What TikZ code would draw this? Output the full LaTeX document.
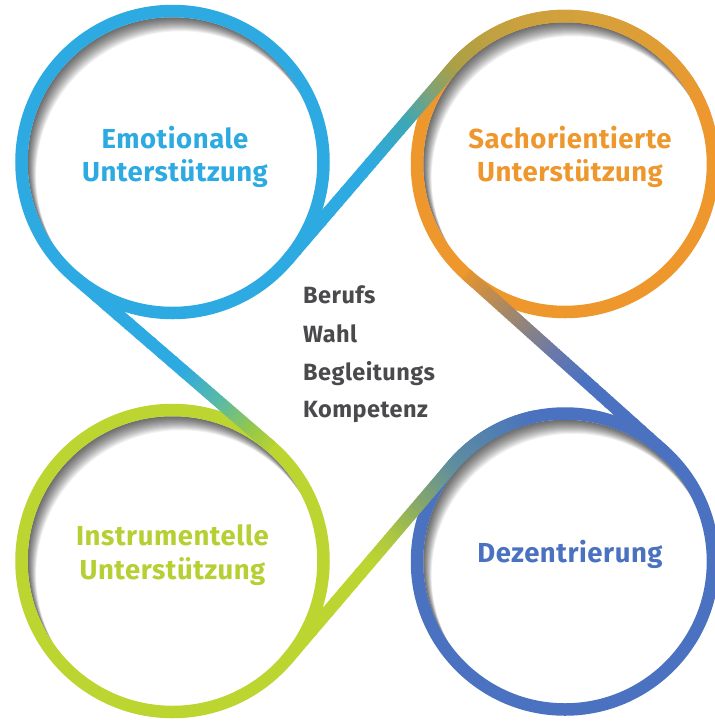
\documentclass[tikz,border=0pt]{standalone}
\usepackage{fontspec}
\setmainfont{Fira Sans}[LetterSpace=2]
\usetikzlibrary{calc}
\definecolor{cBlue}{HTML}{2DAAE1}
\definecolor{cTealA}{HTML}{3EA7B5}
\definecolor{cSage}{HTML}{82A274}
\definecolor{cOlive}{HTML}{A9A046}
\definecolor{cOliveB}{HTML}{C9A13E}
\definecolor{cOchre}{HTML}{D6A13A}
\definecolor{cOrange}{HTML}{EE972D}
\definecolor{cOrB}{HTML}{E3952F}
\definecolor{cBrown}{HTML}{C08C4E}
\definecolor{cGrey}{HTML}{93857A}
\definecolor{cSlate}{HTML}{6878AC}
\definecolor{cNavy}{HTML}{4A72C0}
\definecolor{cSteel}{HTML}{5280B0}
\definecolor{cTealB}{HTML}{5E8E9E}
\definecolor{cMoss}{HTML}{86A76A}
\definecolor{cLime}{HTML}{A9C544}
\definecolor{cGreen}{HTML}{BDD531}
\definecolor{cAqua}{HTML}{5DBBA0}
\definecolor{cLeaf}{HTML}{96C84A}
\definecolor{cLimeB}{HTML}{B5D236}
\definecolor{cText}{HTML}{4A4A4C}
\definecolor{cGreenTxt}{HTML}{B6CF33}
% gradient piece of a straight ribbon: from A to B, t0..t1, colour c0 -> c1
\newcommand{\gline}[6]{%
  \foreach \j in {0,...,9}{%
    \pgfmathsetmacro{\tA}{#3+(#4-#3)*\j/10}%
    \pgfmathsetmacro{\tB}{#3+(#4-#3)*(\j+1.2)/10}%
    \pgfmathtruncatemacro{\pc}{100*(\j+0.5)/10}%
    \draw[ribbon, color=#6!\pc!#5] ($(#1)!\tA!(#2)$) -- ($(#1)!\tB!(#2)$);
  }}
% gradient piece of a ring: centre, radius, angle a0..a1, colour c0 -> c1
\newcommand{\garc}[6]{%
  \foreach \j in {0,...,9}{%
    \pgfmathsetmacro{\angA}{#3+(#4-#3)*\j/10}%
    \pgfmathsetmacro{\angB}{#3+(#4-#3)*(\j+1.2)/10}%
    \pgfmathtruncatemacro{\pc}{100*(\j+0.5)/10}%
    \draw[ribbon, color=#6!\pc!#5] ($(#1)+(\angA:#2)$) arc[start angle=\angA, end angle=\angB, radius=#2];
  }}
\begin{document}
\begin{tikzpicture}[x=1pt,y=-1pt,
  ribbon/.style={line width=12.5pt, line cap=butt},
  lab/.style={font=\fontsize{27.5}{32}\selectfont\bfseries, anchor=base, inner sep=0pt},
  mid/.style={font=\fontsize{23.5}{28}\selectfont\bfseries, anchor=base west, text=cText, inner sep=0pt}]
\useasboundingbox (0,0) rectangle (715,721);
\fill[white] (0,0) rectangle (715,721);
% centres
\coordinate (cTL) at (172.5,162);
\coordinate (cTR) at (565,164);
\coordinate (cBL) at (172.5,561);
\coordinate (cBR) at (565,561.5);
% tangent points
\coordinate (t1a) at ($(cTL)+(40.67:151)$);
\coordinate (t1b) at ($(cTR)+(220.67:148)$);
\coordinate (t2a) at ($(cTR)+(131.87:148)$);
\coordinate (t2b) at ($(cBR)+(311.87:148)$);
\coordinate (t3a) at ($(cBR)+(220.45:148)$);
\coordinate (t3b) at ($(cBL)+(40.45:151)$);
\coordinate (t4a) at ($(cTL)+(130.81:151)$);
\coordinate (t4b) at ($(cBL)+(310.81:151)$);
% inner shadows
\foreach \cc/\rr in {cTL/144.75, cTR/141.75, cBL/144.75, cBR/141.75}{
  \begin{scope}
    \clip (\cc) circle[radius=\rr];
    \foreach \k in {1,...,14}{
      \fill[black, opacity=0.055, even odd rule] (\cc) circle[radius=\rr+40]
        ($(\cc)+(0.6*\k,1.0*\k)$) circle[radius=\rr];
    }
  \end{scope}
}
% rings
\draw[ribbon, cBlue] (cTL) circle[radius=151];
\draw[ribbon, cOrange] (cTR) circle[radius=148];
\draw[ribbon, cGreen] (cBL) circle[radius=151];
\draw[ribbon, cNavy] (cBR) circle[radius=148];
% colour transitions on rings
\garc{cTR}{148}{220.67}{250}{cOlive}{cOliveB}
\garc{cTR}{148}{250}{280}{cOliveB}{cOchre}
\garc{cTR}{148}{280}{345}{cOchre}{cOrange}
\garc{cBR}{148}{220.45}{240}{cTealB}{cSteel}
\garc{cBR}{148}{240}{258}{cSteel}{cNavy}
% connecting ribbons
\gline{t1a}{t1b}{0}{0.5}{cBlue}{cBlue}
\gline{t1a}{t1b}{0.5}{0.72}{cBlue}{cTealA}
\gline{t1a}{t1b}{0.72}{0.88}{cTealA}{cSage}
\gline{t1a}{t1b}{0.88}{1}{cSage}{cOlive}
\gline{t2a}{t2b}{0}{0.12}{cOrB}{cBrown}
\gline{t2a}{t2b}{0.12}{0.28}{cBrown}{cGrey}
\gline{t2a}{t2b}{0.28}{0.45}{cGrey}{cSlate}
\gline{t2a}{t2b}{0.45}{0.6}{cSlate}{cNavy}
\gline{t2a}{t2b}{0.6}{1}{cNavy}{cNavy}
\gline{t3a}{t3b}{0}{0.2}{cTealB}{cMoss}
\gline{t3a}{t3b}{0.2}{0.35}{cMoss}{cLime}
\gline{t3a}{t3b}{0.35}{0.5}{cLime}{cGreen}
\gline{t3a}{t3b}{0.5}{1}{cGreen}{cGreen}
\gline{t4a}{t4b}{0}{0.55}{cBlue}{cBlue}
\gline{t4a}{t4b}{0.55}{0.75}{cBlue}{cAqua}
\gline{t4a}{t4b}{0.75}{0.9}{cAqua}{cLeaf}
\gline{t4a}{t4b}{0.9}{1}{cLeaf}{cLimeB}
% labels
\node[lab, text=cBlue] (tl1) at (175,148) {Emotionale};
\node[lab, text=cBlue] (tl2) at (175,181) {Unterstützung};
\node[lab, text=cOrange] (tr1) at (570,148) {Sachorientierte};
\node[lab, text=cOrange] (tr2) at (570,181) {Unterstützung};
\node[lab, text=cGreenTxt] (bl1) at (172.5,545) {Instrumentelle};
\node[lab, text=cGreenTxt] (bl2) at (172.5,579) {Unterstützung};
\node[lab, text=cNavy] (br1) at (570,562) {Dezentrierung};
\node[mid] (m1) at (303,303) {Berufs};
\node[mid] (m2) at (303,342) {Wahl};
\node[mid] (m3) at (303,380) {Begleitungs};
\node[mid] (m4) at (303,417) {Kompetenz};
\end{tikzpicture}
\end{document}
